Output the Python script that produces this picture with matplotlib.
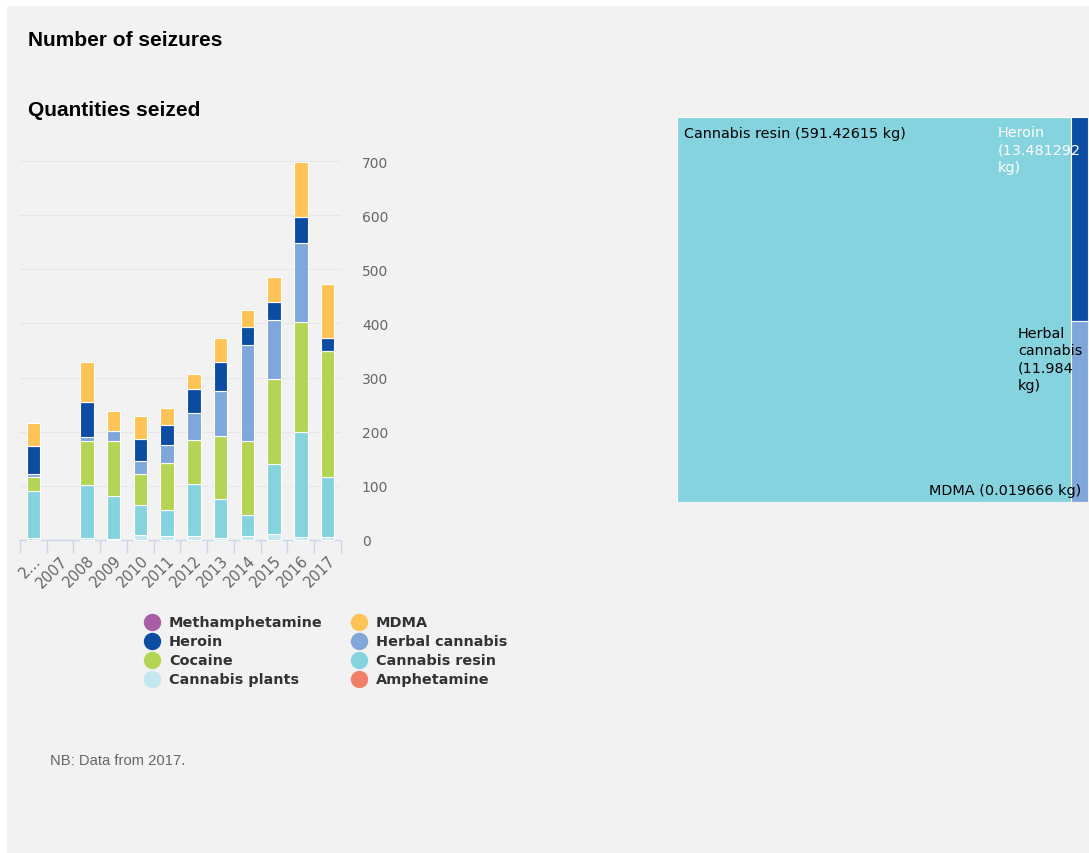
import matplotlib
matplotlib.use("Agg")
import matplotlib.pyplot as plt
from matplotlib.patches import Rectangle
from matplotlib.lines import Line2D
import numpy as np

# data
years = ["2\u2026", "2007", "2008", "2009", "2010", "2011", "2012", "2013", "2014", "2015", "2016", "2017"]
cannabis_plants = [4, 0, 4, 2, 10, 7, 7, 4, 7, 11, 5, 5]
cannabis_resin = [87, 0, 97, 79, 54, 49, 96, 72, 39, 130, 195, 111]
cocaine = [25, 0, 81, 101, 57, 87, 82, 117, 136, 156, 203, 233]
herbal_cannabis = [6, 0, 8, 20, 24, 33, 49, 83, 179, 109, 146, 1]
heroin = [51, 0, 64, 0, 42, 36, 45, 53, 32, 34, 47, 24]
mdma = [43, 0, 75, 37, 42, 32, 27, 44, 32, 45, 102, 99]
yticks = [0, 100, 200, 300, 400, 500, 600, 700]

legend_names = ["Methamphetamine", "Heroin", "Cocaine", "Cannabis plants",
                "MDMA", "Herbal cannabis", "Cannabis resin", "Amphetamine"]

tree_names = ["Cannabis resin", "Heroin", "Herbal cannabis", "MDMA"]
tree_values = [591.42615, 13.481292, 11.984, 0.019666]
tree_labels = ["Cannabis resin (591.42615 kg)", "Heroin\n(13.481292\nkg)",
               "Herbal\ncannabis\n(11.984\nkg)", "MDMA (0.019666 kg)"]

colors = {
    "Methamphetamine": "#a95da6",
    "Heroin": "#0c4da2",
    "Cocaine": "#b4d455",
    "Cannabis plants": "#c4e7f0",
    "MDMA": "#fec457",
    "Herbal cannabis": "#7fa7d9",
    "Cannabis resin": "#86d3e0",
    "Amphetamine": "#f28068",
}

W, H = 1089, 854
fig = plt.figure(figsize=(W / 100, H / 100), dpi=100)
fig.patch.set_facecolor("white")
fig.add_artist(Rectangle((7 / W, 0), 1, 1 - 7 / H, transform=fig.transFigure,
                         facecolor="#f2f2f2", edgecolor="none", zorder=-10))

fig.text(28 / W, 1 - 40 / H, "Number of seizures", fontsize=15, fontweight="bold",
         family="Liberation Sans", va="center", color="black")
fig.text(28 / W, 1 - 111 / H, "Quantities seized", fontsize=15, fontweight="bold",
         family="Liberation Sans", va="center", color="black")
fig.text(50 / W, 1 - 761 / H, "NB: Data from 2017.", fontsize=10.6,
         family="Liberation Sans", va="center", color="#666666")

# stacked bars
ax = fig.add_axes([20 / W, 1 - 541 / H, 321 / W, 379 / H])
ax.set_facecolor("none")
x = np.arange(len(years))
stack = [("Cannabis plants", cannabis_plants), ("Cannabis resin", cannabis_resin),
         ("Cocaine", cocaine), ("Herbal cannabis", herbal_cannabis),
         ("Heroin", heroin), ("MDMA", mdma)]
bottom = np.zeros(len(years))
for name, vals in stack:
    vals = np.array(vals, dtype=float)
    lw = np.where(vals > 0, 0.8, 0)
    ax.bar(x, vals, 0.5, bottom=bottom, color=colors[name], edgecolor="white",
           linewidth=lw, zorder=3, clip_on=False)
    bottom += vals

ax.set_xlim(-0.5, len(years) - 0.5)
ax.set_ylim(0, 700)
ax.set_yticks(yticks)
ax.yaxis.tick_right()
ax.tick_params(axis="y", length=0, pad=15, labelsize=10, labelcolor="#666666")
ax.grid(axis="y", color="#e6e6e6", linewidth=0.8, zorder=0)
for s in ["top", "left", "right"]:
    ax.spines[s].set_visible(False)
ax.spines["bottom"].set_color("#ccd6eb")
ax.spines["bottom"].set_linewidth(1)
ax.set_xticks(x)
ax.set_xticklabels(years, rotation=45, ha="right", va="top", rotation_mode="anchor")
ax.tick_params(axis="x", length=0, pad=9, labelsize=10.5, labelcolor="#666666")
ax.set_xticks(np.arange(-0.5, len(years)), minor=True)
ax.tick_params(axis="x", which="minor", length=9, color="#ccd6eb", width=1)

# legend, laid out by hand: two columns of four
for i, name in enumerate(legend_names):
    col, row = divmod(i, 4)
    cx = (152 + 207 * col) / W
    cy = 1 - (623 + 19 * row) / H
    fig.add_artist(Line2D([cx], [cy], marker="o", markersize=11.5, linestyle="none",
                          markerfacecolor=colors[name], markeredgecolor=colors[name],
                          transform=fig.transFigure))
    fig.text(cx + 17 / W, cy, name, fontsize=10.4, fontweight="bold", color="#333333",
             va="center", ha="left")

# treemap
ax2 = fig.add_axes([677 / W, 1 - 503 / H, 411 / W, 385 / H])
ax2.set_xlim(0, 1)
ax2.set_ylim(1, 0)
ax2.axis("off")
total = sum(tree_values)
first_w = tree_values[0] / total
rects = [(0, 0, first_w, 1)]
rest = sum(tree_values[1:])
yy = 0
for v in tree_values[1:]:
    h = v / rest
    rects.append((first_w, yy, 1 - first_w, h))
    yy += h
for name, (rx, ry, rw, rh) in zip(tree_names, rects):
    ax2.add_patch(Rectangle((rx, ry), rw, rh, facecolor=colors[name],
                            edgecolor="white", linewidth=0.8))

ax2.text(7 / 411, 16 / 385, tree_labels[0], fontsize=10.4, color="black", va="center", ha="left")
ax2.text(321 / 411, 8 / 385, tree_labels[1], fontsize=10.4, color="white", va="top", ha="left",
         linespacing=1.3, clip_on=False)
ax2.text(341 / 411, 209 / 385, tree_labels[2], fontsize=10.4, color="black", va="top", ha="left",
         linespacing=1.3)
ax2.text(404 / 411, 373 / 385, tree_labels[3], fontsize=10.4, color="black", va="center", ha="right")

fig.savefig("out.png", dpi=100, facecolor=fig.get_facecolor())
